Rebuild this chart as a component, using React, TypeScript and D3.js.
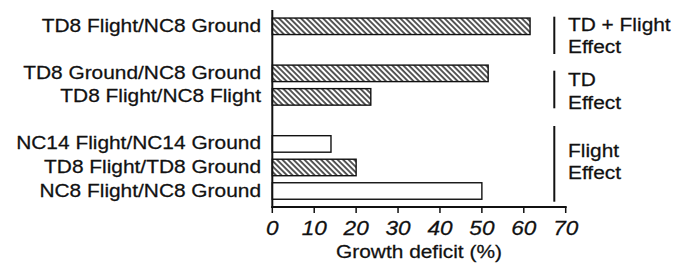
import React from "react";
import * as d3 from "d3";

const categories = [
  "TD8 Flight/NC8 Ground",
  "TD8 Ground/NC8 Ground",
  "TD8 Flight/NC8 Flight",
  "NC14 Flight/NC14 Ground",
  "TD8 Flight/TD8 Ground",
  "NC8 Flight/NC8 Ground",
];
const slots = [0, 2, 3, 5, 6, 7];
const values = [61.5, 51.5, 23.5, 14, 20, 50];
const hatched = [true, true, true, false, true, false];
const xTicks = [0, 10, 20, 30, 40, 50, 60, 70];
const groupLabels = [["TD + Flight", "Effect"], ["TD", "Effect"], ["Flight", "Effect"]];
const xTitle = "Growth deficit (%)";

const W = 689;
const H = 263;
const SX = 1.16;
const FONT = "'Liberation Sans', Arial, Helvetica, sans-serif";

export default function App() {
  const x = d3.scaleLinear().domain([0, 70]).range([272.3, 565.7]);
  const y = d3.scaleLinear().domain([0, 7]).range([26.3, 191]);
  const barH = 16.5;
  const axisY = 207;
  const bracketX = 554.3;
  const brackets = [
    [16.7, 54],
    [70.7, 108.3],
    [126, 201.7],
  ];
  const baselines = [
    [30.7, 53.3],
    [86, 108.5],
    [156.7, 178.5],
  ];
  const textProps = { fontFamily: FONT, fill: "#111", stroke: "#111", strokeWidth: 0.25 };

  return (
    <svg width={W} height={H} style={{ position: "absolute", left: 0, top: 0, background: "#fff" }}>
      <defs>
        <pattern id="hatch" width={3.9} height={10} patternUnits="userSpaceOnUse" patternTransform="rotate(-45)">
          <rect width={3.9} height={10} fill="#fff" />
          <line x1={1} y1={0} x2={1} y2={10} stroke="#111" strokeWidth={1.4} />
        </pattern>
      </defs>
      <rect width={W} height={H} fill="#fff" />

      {categories.map((c, i) => (
        <g key={c}>
          <rect
            x={x(0)}
            y={y(slots[i]) - barH / 2}
            width={x(values[i]) - x(0)}
            height={barH}
            fill={hatched[i] ? "url(#hatch)" : "#fff"}
            stroke="#111"
            strokeWidth={1.4}
          />
          <text
            transform={`translate(261, ${y(slots[i]) + 5.5}) scale(${SX},1)`}
            textAnchor="end"
            fontSize={18}
            {...textProps}
          >
            {c}
          </text>
        </g>
      ))}

      <line x1={x(0)} x2={x(0)} y1={10} y2={axisY + 1} stroke="#111" strokeWidth={2} />
      <line x1={x(0) - 1} x2={x(70) + 1} y1={axisY} y2={axisY} stroke="#111" strokeWidth={2} />
      {xTicks.map((t) => (
        <g key={t}>
          <line x1={x(t)} x2={x(t)} y1={axisY} y2={axisY + 6} stroke="#111" strokeWidth={1.5} />
          <text
            transform={`translate(${x(t)}, 234.5) scale(${SX},1)`}
            textAnchor="middle"
            fontStyle="italic"
            fontSize={19.5}
            {...textProps}
          >
            {t}
          </text>
        </g>
      ))}
      <text
        transform={`translate(${(x(0) + x(70)) / 2}, 258) scale(${SX},1)`}
        textAnchor="middle"
        fontSize={18}
        {...textProps}
      >
        {xTitle}
      </text>

      {groupLabels.map((lines, gi) => (
        <g key={gi}>
          <line x1={bracketX} x2={bracketX} y1={brackets[gi][0]} y2={brackets[gi][1]} stroke="#111" strokeWidth={2} />
          {lines.map((l, li) => (
            <text
              key={li}
              transform={`translate(568, ${baselines[gi][li]}) scale(${SX},1)`}
              fontSize={18}
              {...textProps}
            >
              {l}
            </text>
          ))}
        </g>
      ))}
    </svg>
  );
}
